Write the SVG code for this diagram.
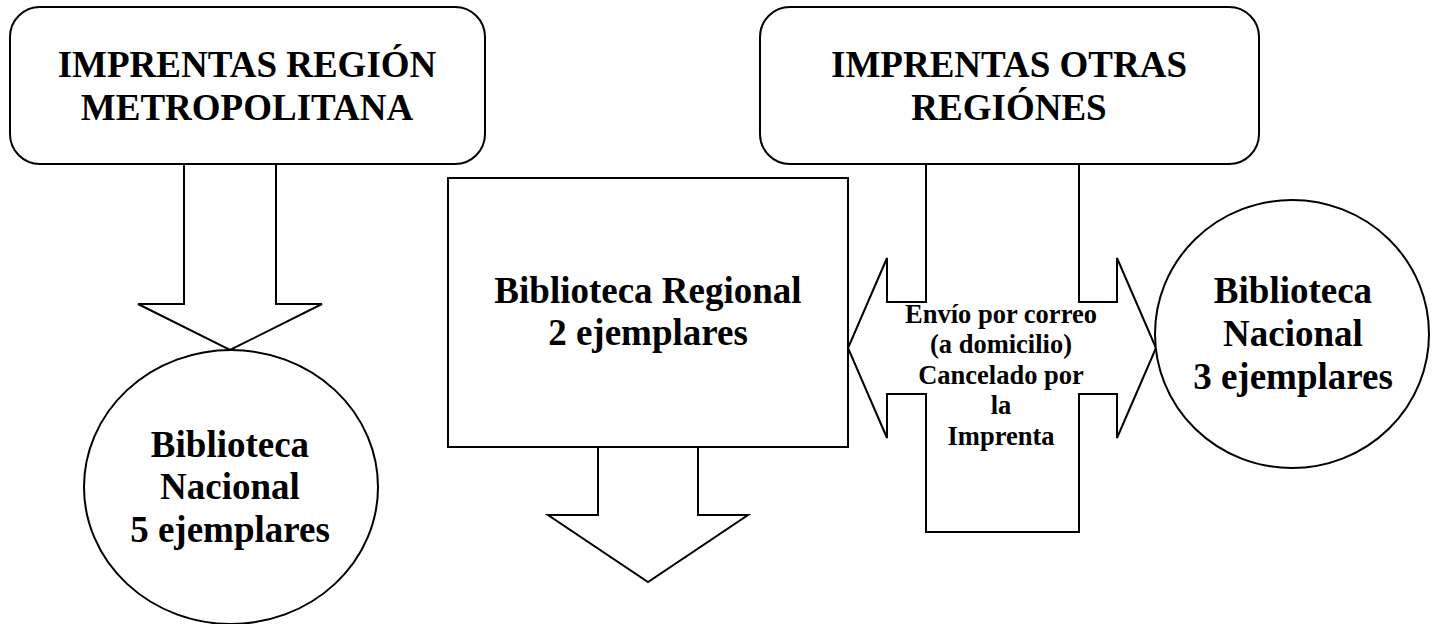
<svg xmlns="http://www.w3.org/2000/svg" width="1437" height="624" viewBox="0 0 1437 624">
<style>
.shape{fill:#fff;stroke:#000;stroke-width:2;stroke-linejoin:miter}
.t{font-family:"Liberation Serif","Times New Roman",serif;font-weight:bold;fill:#000;text-anchor:middle}
.big{font-size:37px}
.small{font-size:26.5px}
</style>
<rect width="1437" height="624" fill="#fff"/>
<g id="connectors">
  <polygon class="shape" points="184,164 184,304 138,304 230,350 322,304 276,304 276,164"/>
  <polygon class="shape" points="598,447 598,515 548,515 648,582 748,515 698,515 698,447"/>
  <polygon class="shape" points="926,164 926,302 887,302 887,258 848,348 887,438 887,394 926,394 926,532 1079,532 1079,394 1117,394 1117,438 1156,348 1117,258 1117,302 1079,302 1079,164"/>
  <text class="t small" x="1001"><tspan x="1001" y="323">Envío por correo</tspan><tspan x="1001" y="353">(a domicilio)</tspan><tspan x="1001" y="384">Cancelado por</tspan><tspan x="1001" y="414">la</tspan><tspan x="1001" y="445">Imprenta</tspan></text>
</g>
<g id="imprentas-rm">
  <rect class="shape" x="10" y="7" width="475" height="157" rx="30" ry="30"/>
  <text class="t big"><tspan x="247" y="77">IMPRENTAS REGIÓN</tspan><tspan x="247" y="120">METROPOLITANA</tspan></text>
</g>
<g id="imprentas-otras">
  <rect class="shape" x="760" y="7" width="499" height="157" rx="30" ry="30"/>
  <text class="t big"><tspan x="1009" y="77">IMPRENTAS OTRAS</tspan><tspan x="1009" y="120">REGIÓNES</tspan></text>
</g>
<g id="bn-5">
  <ellipse class="shape" cx="231" cy="487" rx="147" ry="137"/>
  <text class="t big"><tspan x="230" y="457">Biblioteca</tspan><tspan x="230" y="499">Nacional</tspan><tspan x="230" y="542">5 ejemplares</tspan></text>
</g>
<g id="biblioteca-regional">
  <rect class="shape" x="448" y="178" width="400" height="269"/>
  <text class="t big"><tspan x="648" y="303">Biblioteca Regional</tspan><tspan x="648" y="345">2 ejemplares</tspan></text>
</g>
<g id="bn-3">
  <ellipse class="shape" cx="1292" cy="334" rx="137" ry="134"/>
  <text class="t big"><tspan x="1293" y="303">Biblioteca</tspan><tspan x="1293" y="346">Nacional</tspan><tspan x="1293" y="389">3 ejemplares</tspan></text>
</g>
</svg>
